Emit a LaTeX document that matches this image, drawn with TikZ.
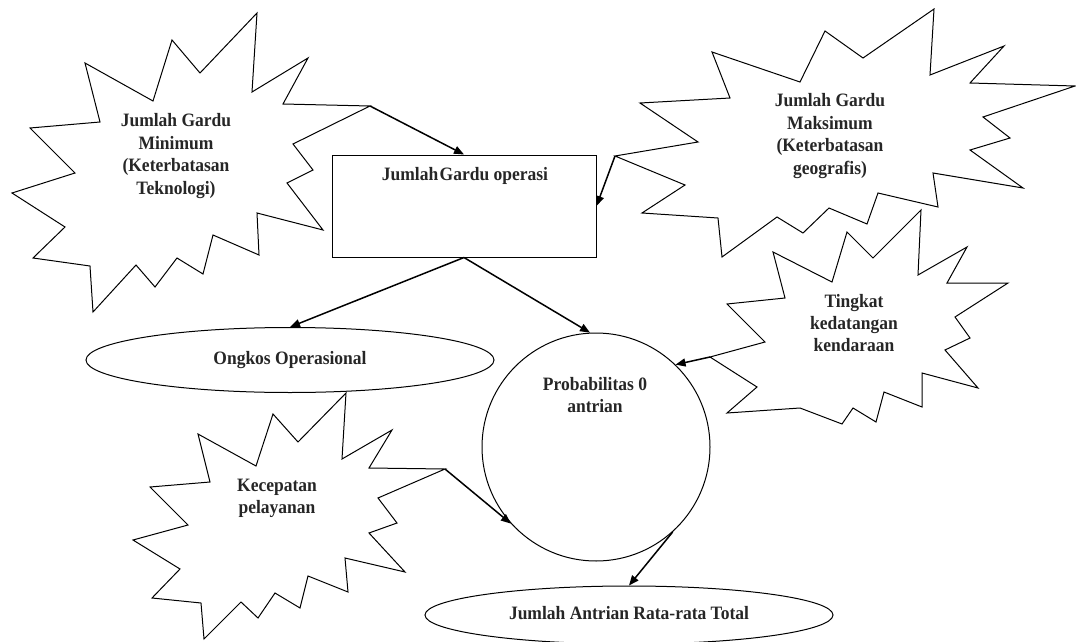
\documentclass[tikz,border=0pt]{standalone}
\usepackage{fontspec}
\usepackage{graphicx}
\setmainfont{Liberation Serif}
\usetikzlibrary{shapes.geometric,arrows.meta}
\newcommand\vtxt[1]{\scalebox{1}[1.08]{\begin{tabular}{@{}c@{}}#1\end{tabular}}}
\begin{document}
\begin{tikzpicture}[x=1pt,y=-1pt,
  shapeline/.style={draw=black,line width=1pt,line join=miter},
  txt/.style={font=\fontsize{17.5}{20.8}\selectfont\bfseries,text=black!85,align=center,inner sep=0pt},
  arr/.style={draw=black,line width=1.5pt,-{Triangle[length=10pt,width=8pt]}},
  ell/.style={shapeline,ellipse,inner sep=0pt,font=\fontsize{17.5}{20.8}\selectfont\bfseries,text=black!85},
]
\useasboundingbox (0,0) rectangle (1076,642);

% Star 1: Jumlah Gardu Minimum
\draw[shapeline] (257,13) -- (252,92) -- (308,58) -- (283,104) -- (370,106) -- (293,144) -- (313,170) -- (287,183) -- (323,230) -- (257,213) -- (259,255) -- (213,235) -- (203,274) -- (177,258) -- (155,287) -- (136,265) -- (93,312) -- (90,266) -- (33,258) -- (65,227) -- (12,193) -- (75,173) -- (30,128) -- (100,122) -- (85,63) -- (153,101) -- (172,40) -- (200,73) -- cycle;
\coordinate (s1tip) at (370,106);
\node[txt] (s1) at (176,156) {\vtxt{Jumlah Gardu\\Minimum\\(Keterbatasan\\Teknologi)}};

% Star 2: Jumlah Gardu Maksimum
\draw[shapeline] (934,9) -- (930,75) -- (1004,46) -- (970,83) -- (1075,86) -- (983,117) -- (1010,138) -- (970,150) -- (1023,188) -- (933,173) -- (938,207) -- (878,193) -- (867,224) -- (829,208) -- (803,233) -- (777,217) -- (722,257) -- (718,218) -- (642,213) -- (685,185) -- (615,156) -- (698,142) -- (640,103) -- (730,98) -- (712,52) -- (800,82) -- (825,31) -- (863,58) -- cycle;
\coordinate (s2tip) at (615,156);
\node[txt] (s2) at (830,136) {\vtxt{Jumlah Gardu\\Maksimum\\(Keterbatasan\\geografis)}};

% Star 3: Tingkat kedatangan kendaraan
\draw[shapeline] (921,210) -- (918,275) -- (967,247) -- (947,283) -- (1008,283) -- (955,317) -- (970,338) -- (945,350) -- (978,388) -- (922,373) -- (922,407) -- (884,392) -- (876,422) -- (853,408) -- (842,424) -- (800,408) -- (727,413) -- (757,387) -- (710,357) -- (765,342) -- (727,304) -- (785,298) -- (773,252) -- (832,282) -- (847,232) -- (873,258) -- cycle;
\coordinate (s3tip) at (710,357);
\node[txt] (s3) at (854,325) {\vtxt{Tingkat\\kedatangan\\kendaraan}};

% Star 4: Kecepatan pelayanan
\draw[shapeline] (346,393) -- (342,459) -- (392,430) -- (369,468) -- (445,469) -- (378,498) -- (397,523) -- (369,533) -- (405,572) -- (345,558) -- (348,592) -- (308,576) -- (300,608) -- (275,593) -- (258,618) -- (241,602) -- (204,639) -- (201,603) -- (152,598) -- (180,569) -- (133,540) -- (188,525) -- (150,487) -- (210,482) -- (198,434) -- (256,466) -- (273,414) -- (298,442) -- cycle;
\coordinate (s4tip) at (445,469);
\node[txt] (s4) at (277,498) {\vtxt{Kecepatan\\pelayanan}};

% Rectangle
\node[shapeline,rectangle,minimum width=264pt,minimum height=102pt,inner sep=0pt] (rect) at (464,206) {};
\node[txt] (recttxt) at (465,176) {\vtxt{Jumlah\hspace{0.08em}Gardu operasi}};

% Ongkos ellipse
\node[ell,minimum width=408pt,minimum height=65pt] (ong) at (290,360) {\vtxt{Ongkos Operasional}};

% Circle
\node[shapeline,circle,minimum size=228pt,inner sep=0pt] (circ) at (596,447) {};
\node[txt] (circtxt) at (595,397) {\vtxt{Probabilitas 0\\antrian}};

% Bottom ellipse
\node[ell,minimum width=408pt,minimum height=58pt] (tot) at (629,615) {\vtxt{Jumlah Antrian Rata-rata Total}};

% Arrows
\draw[arr] (s1tip) -- (rect.north);
\draw[arr] (s2tip) -- (rect.east);
\draw[arr] (rect.south) -- (ong.north);
\draw[arr] (rect.south) -- (circ.93);
\draw[arr] (s3tip) -- (circ.46);
\draw[arr] (s4tip) -- (circ.222);
\draw[arr] (circ.-48) -- (tot.north);
\end{tikzpicture}
\end{document}
